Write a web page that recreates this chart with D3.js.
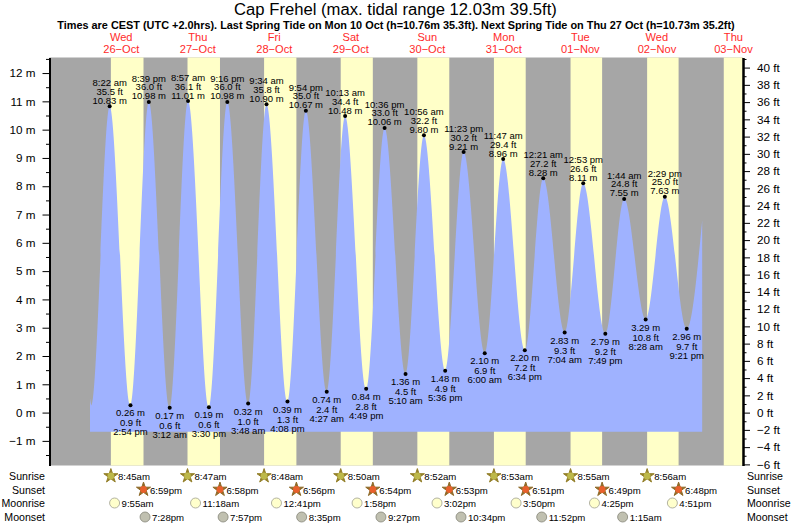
<!DOCTYPE html>
<html>
<head>
<meta charset="utf-8">
<title>Cap Frehel tide chart</title>
<script src="https://cdnjs.cloudflare.com/ajax/libs/d3/7.8.5/d3.min.js"></script>
<style>
    html, body { margin: 0; padding: 0; background: #fff; }
    svg { display: block; }
    text { font-family: "Liberation Sans", Arial, sans-serif; fill: #000; }
    .tick text { font-family: "Liberation Sans", Arial, sans-serif; }
</style>
</head>
<body>
<svg id="chart" width="793" height="525"></svg>
<script>
// Extremes of the tide, in order (times are CEST all the way through)
const tideTimes = [
    '10-26 08:22', '10-26 14:54', '10-26 20:39', '10-27 03:12', '10-27 08:57', '10-27 15:30',
    '10-27 21:16', '10-28 03:48', '10-28 09:34', '10-28 16:08', '10-28 21:54', '10-29 04:27',
    '10-29 10:13', '10-29 16:49', '10-29 22:36', '10-30 05:10', '10-30 10:56', '10-30 17:36',
    '10-30 23:23', '10-31 06:00', '10-31 11:47', '10-31 18:34', '11-01 00:21', '11-01 07:04',
    '11-01 12:53', '11-01 19:49', '11-02 01:44', '11-02 08:28', '11-02 14:29', '11-02 21:21'
];
const tideMetres = [
    10.83, 0.26, 10.98, 0.17, 11.01, 0.19, 10.98, 0.32, 10.90, 0.39, 10.67, 0.74, 10.48, 0.84, 10.06,
    1.36, 9.80, 1.48, 9.21, 2.10, 8.96, 2.20, 8.28, 2.83, 8.11, 2.79, 7.55, 3.29, 7.63, 2.96
];
const tideFeet = [
    '35.5', '0.9', '36.0', '0.6', '36.1', '0.6', '36.0', '1.0', '35.8', '1.3', '35.0', '2.4', '34.4', '2.8', '33.0',
    '4.5', '32.2', '4.9', '30.2', '6.9', '29.4', '7.2', '27.2', '9.3', '26.6', '9.2', '24.8', '10.8', '25.0', '9.7'
];
const tideClock = [
    '8:22 am', '2:54 pm', '8:39 pm', '3:12 am', '8:57 am', '3:30 pm', '9:16 pm', '3:48 am', '9:34 am', '4:08 pm',
    '9:54 pm', '4:27 am', '10:13 am', '4:49 pm', '10:36 pm', '5:10 am', '10:56 am', '5:36 pm', '11:23 pm', '6:00 am',
    '11:47 am', '6:34 pm', '12:21 am', '7:04 am', '12:53 pm', '7:49 pm', '1:44 am', '8:28 am', '2:29 pm', '9:21 pm'
];

const curveStart = [['10-26 02:12', 0.51], ['10-26 02:40', 0.26]];
const curveEnd = [['11-03 02:12', 6.8]];
const curveFloor = -0.68;

const dayNames = ['Wed', 'Thu', 'Fri', 'Sat', 'Sun', 'Mon', 'Tue', 'Wed', 'Thu'];
const dayDates = ['26\u2212Oct', '27\u2212Oct', '28\u2212Oct', '29\u2212Oct', '30\u2212Oct', '31\u2212Oct', '01\u2212Nov', '02\u2212Nov', '03\u2212Nov'];
const dayNoons = [
    '10-26 12:00', '10-27 12:00', '10-28 12:00', '10-29 12:00', '10-30 12:00',
    '10-31 12:00', '11-01 12:00', '11-02 12:00', '11-03 12:00'
];

const sunriseTimes = ['10-26 08:45', '10-27 08:47', '10-28 08:48', '10-29 08:50', '10-30 08:52', '10-31 08:53', '11-01 08:55', '11-02 08:56'];
const sunriseLabels = ['8:45am', '8:47am', '8:48am', '8:50am', '8:52am', '8:53am', '8:55am', '8:56am'];
const sunsetTimes = ['10-26 18:59', '10-27 18:58', '10-28 18:56', '10-29 18:54', '10-30 18:53', '10-31 18:51', '11-01 18:49', '11-02 18:48'];
const sunsetLabels = ['6:59pm', '6:58pm', '6:56pm', '6:54pm', '6:53pm', '6:51pm', '6:49pm', '6:48pm'];
const moonriseTimes = ['10-26 09:55', '10-27 11:18', '10-28 12:41', '10-29 13:58', '10-30 15:02', '10-31 15:50', '11-01 16:25', '11-02 16:51'];
const moonriseLabels = ['9:55am', '11:18am', '12:41pm', '1:58pm', '3:02pm', '3:50pm', '4:25pm', '4:51pm'];
const moonsetTimes = ['10-26 19:28', '10-27 19:57', '10-28 20:35', '10-29 21:27', '10-30 22:34', '10-31 23:52', '11-02 01:15'];
const moonsetLabels = ['7:28pm', '7:57pm', '8:35pm', '9:27pm', '10:34pm', '11:52pm', '1:15am'];
// Daylight of the last day runs into the right axis
const lastSunrise = '11-03 08:58';

const metreTicks = [-1, 0, 1, 2, 3, 4, 5, 6, 7, 8, 9, 10, 11, 12];
const metreMinorTicks = [-1.5, -0.5, 0.5, 1.5, 2.5, 3.5, 4.5, 5.5, 6.5, 7.5, 8.5, 9.5, 10.5, 11.5, 12.5];
const feetTicks = d3.range(-6, 41, 2);
const feetMinorTicks = d3.range(-5, 42, 2);
const rowNames = ['Sunrise', 'Sunset', 'Moonrise', 'Moonset'];

const parseTime = d3.utcParse('%Y-%m-%d %H:%M');
const when = s => parseTime('2022-' + s);

const svg = d3.select('#chart');
const plot = { left: 49.5, right: 743, top: 57.5, bottom: 465.5 };

const x = d3.scaleUtc()
    .domain([when('10-25 13:30'), when('11-03 15:00')])
    .range([plot.left, plot.right]);
const yM = d3.scaleLinear().domain([-1.87, 12.55]).range([plot.bottom, plot.top]);
const yFt = d3.scaleLinear().domain([-6.13, 41.17]).range([plot.bottom, plot.top]);

// Night as the background, daylight on top of it
svg.append('rect')
    .attr('x', plot.left).attr('y', plot.top)
    .attr('width', plot.right - plot.left).attr('height', plot.bottom - plot.top)
    .attr('fill', '#a6a6a6');

svg.append('g').selectAll('rect')
    .data(sunriseTimes)
    .join('rect')
    .attr('x', d => x(when(d)))
    .attr('y', plot.top)
    .attr('width', (d, i) => x(when(sunsetTimes[i])) - x(when(d)))
    .attr('height', plot.bottom - plot.top)
    .attr('fill', '#ffffc8');

svg.append('rect')
    .attr('x', x(when(lastSunrise))).attr('y', plot.top)
    .attr('width', plot.right - x(when(lastSunrise))).attr('height', plot.bottom - plot.top)
    .attr('fill', '#ffffc8');

// Tide curve
const curvePoints = [
    ...curveStart,
    ...tideTimes.map((t, i) => [t, tideMetres[i]]),
    ...curveEnd
];
const area = d3.area()
    .x(d => x(when(d[0])))
    .y0(yM(curveFloor))
    .y1(d => yM(d[1]))
    .curve(d3.curveMonotoneX);

svg.append('path')
    .datum(curvePoints)
    .attr('d', area)
    .attr('fill', '#9fb2ff');

// Axes
const fmtM = d => d3.format('d')(d) + ' m';
const fmtFt = d => d3.format('d')(d) + ' ft';

function drawAxis(axis, left) {
    const g = svg.append('g').attr('transform', `translate(${left},0)`).call(axis);
    g.select('.domain').attr('stroke', '#000').attr('stroke-width', 2);
    g.selectAll('.tick line').attr('stroke', '#000').attr('stroke-width', 1);
    g.selectAll('.tick text').attr('font-size', 11.7);
    return g;
}
drawAxis(d3.axisLeft(yM).tickValues(metreMinorTicks).tickSize(3.5).tickSizeOuter(0).tickFormat(''), plot.left);
drawAxis(d3.axisLeft(yM).tickValues(metreTicks).tickSize(7).tickSizeOuter(0).tickPadding(7).tickFormat(fmtM), plot.left);
drawAxis(d3.axisRight(yFt).tickValues(feetMinorTicks).tickSize(3.5).tickSizeOuter(0).tickFormat(''), plot.right);
drawAxis(d3.axisRight(yFt).tickValues(feetTicks).tickSize(7).tickSizeOuter(0).tickPadding(7).tickFormat(fmtFt), plot.right);

// Titles
svg.append('text')
    .attr('x', 395.5).attr('y', 15)
    .attr('text-anchor', 'middle').attr('font-size', 16.65)
    .text('Cap Frehel (max. tidal range 12.03m 39.5ft)');
svg.append('text')
    .attr('x', 396).attr('y', 29)
    .attr('text-anchor', 'middle').attr('font-size', 10.9).attr('font-weight', 'bold')
    .text('Times are CEST (UTC +2.0hrs). Last Spring Tide on Mon 10 Oct (h=10.76m 35.3ft). Next Spring Tide on Thu 27 Oct (h=10.73m 35.2ft)');

const days = svg.append('g').selectAll('g')
    .data(dayNoons)
    .join('g')
    .attr('transform', d => `translate(${x(when(d))},0)`)
    .attr('text-anchor', 'middle')
    .attr('font-size', 11.1);
days.append('text').attr('y', 41).style('fill', '#ff2a2a').text((d, i) => dayNames[i]);
days.append('text').attr('y', 53).style('fill', '#ff2a2a').text((d, i) => dayDates[i]);

// Labels of the extremes, highs go above the dot and lows below
const isHigh = i => i % 2 === 0;
const labelLines = i => isHigh(i)
    ? [tideClock[i], tideFeet[i] + ' ft', tideMetres[i].toFixed(2) + ' m']
    : [tideMetres[i].toFixed(2) + ' m', tideFeet[i] + ' ft', tideClock[i]];
const highLineY = [-20, -11.5, -2.5];
const lowLineY = [11, 21, 30];

const marks = svg.append('g').selectAll('g')
    .data(tideTimes)
    .join('g')
    .attr('transform', (d, i) => `translate(${x(when(d))},${yM(tideMetres[i])})`)
    .attr('text-anchor', 'middle')
    .attr('font-size', 9.5);
marks.append('circle').attr('r', 2).attr('fill', '#000');
marks.each(function (d, i) {
    d3.select(this).selectAll('text')
        .data(labelLines(i))
        .join('text')
        .attr('y', (line, k) => isHigh(i) ? highLineY[k] : lowLineY[k])
        .text(line => line);
});

// Sun and moon rows underneath the plot
const rowY = [476, 489.5, 503, 517];

rowNames.forEach((name, i) => {
    svg.append('text').attr('x', 45).attr('y', rowY[i] + 4)
        .attr('text-anchor', 'end').attr('font-size', 10.6).text(name);
    svg.append('text').attr('x', 747).attr('y', rowY[i] + 4)
        .attr('font-size', 10.6).text(name);
});

const star = d3.symbol().type(d3.symbolStar).size(62);

function drawRow(times, labels, row, drawIcon, gap) {
    const g = svg.append('g').selectAll('g')
        .data(times)
        .join('g')
        .attr('transform', d => `translate(${x(when(d))},${rowY[row]})`);
    drawIcon(g);
    g.append('text')
        .attr('x', gap).attr('y', 4)
        .attr('font-size', 9.6)
        .text((d, i) => labels[i]);
}

function starIcon(edge, inner) {
    return g => {
        g.append('path').attr('d', star).attr('fill', edge).attr('stroke', edge).attr('stroke-width', 1);
        g.append('circle').attr('r', 3.4).attr('fill', inner);
    };
}
function moonIcon(fill, edge) {
    return g => {
        g.append('circle').attr('r', 5).attr('fill', fill).attr('stroke', edge).attr('stroke-width', 0.8);
    };
}

drawRow(sunriseTimes, sunriseLabels, 0, starIcon('#94802a', '#bdb84a'), 7);
drawRow(sunsetTimes, sunsetLabels, 1, starIcon('#8f6a28', '#e8602c'), 6.5);
drawRow(moonriseTimes, moonriseLabels, 2, moonIcon('#ffffcc', '#a0a090'), 7);
drawRow(moonsetTimes, moonsetLabels, 3, moonIcon('#c0c0b0', '#858578'), 7);
</script>
</body>
</html>
